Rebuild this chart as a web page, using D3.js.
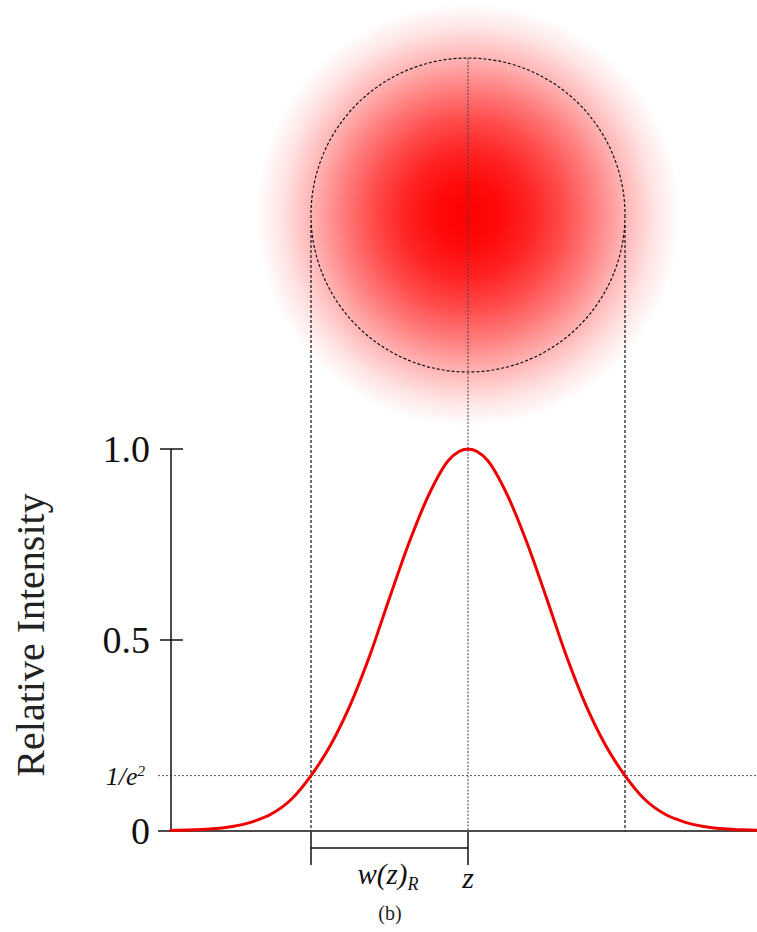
<!DOCTYPE html>
<html>
<head>
<meta charset="utf-8">
<script src="https://cdn.jsdelivr.net/npm/d3@7"></script>
<style>
  body { margin: 0; background: #fff; }
  svg { display: block; font-family: "Liberation Serif", "DejaVu Serif", serif; }
</style>
</head>
<body>
<div id="chart"></div>
<script>
// beam profile, position in units of w(z), intensity
const positions = [-1.9, -1.75, -1.625, -1.5, -1.375, -1.25, -1.125, -1.0, -0.875, -0.75, -0.625, -0.5, -0.375, -0.25, -0.125, 0,
                   0.125, 0.25, 0.375, 0.5, 0.625, 0.75, 0.875, 1.0, 1.125, 1.25, 1.375, 1.5, 1.625, 1.75, 1.85];
const intensity = [0.001, 0.003, 0.006, 0.012, 0.024, 0.045, 0.083, 0.145, 0.225, 0.33, 0.46, 0.61, 0.755, 0.88, 0.97, 1.0,
                   0.97, 0.88, 0.755, 0.61, 0.46, 0.33, 0.225, 0.145, 0.083, 0.045, 0.024, 0.012, 0.006, 0.003, 0.002];
const tickValues = [0, 0.5, 1.0];
const tickLabels = ["0", "0.5", "1.0"];
const invE2 = 0.145;
const invE2Label = "1/e";

const width = 757, height = 932;
const cx = 468, cy = 215;

const svg = d3.select("#chart").append("svg")
    .attr("width", width)
    .attr("height", height);

const x = d3.scaleLinear().domain([-1, 1]).range([311, 625]);
const y = d3.scaleLinear().domain([0, 1]).range([831, 449]);
const beamR = x(1) - x(0);

// glowing spot
const grad = svg.append("defs").append("radialGradient").attr("id", "spot");
const stops = [[0, 1], [0.15, 0.96], [0.3, 0.86], [0.45, 0.7], [0.6, 0.5], [0.75, 0.28], [0.88, 0.11], [1, 0]];
grad.selectAll("stop").data(stops).enter().append("stop")
    .attr("offset", d => d[0])
    .attr("stop-color", "#ff0000")
    .attr("stop-opacity", d => d[1]);

svg.append("circle")
    .attr("cx", cx).attr("cy", cy).attr("r", 212)
    .attr("fill", "url(#spot)");

svg.append("circle")
    .attr("cx", cx).attr("cy", cy).attr("r", beamR)
    .attr("fill", "none")
    .attr("stroke", "#111")
    .attr("stroke-width", 1.2)
    .attr("stroke-dasharray", "3,2");

// guide lines
svg.append("line")
    .attr("x1", x(0)).attr("x2", x(0))
    .attr("y1", cy - beamR).attr("y2", y(0))
    .attr("stroke", "#444").attr("stroke-width", 1)
    .attr("stroke-dasharray", "2,1.5");

[-1, 1].forEach(v => {
  svg.append("line")
      .attr("x1", x(v)).attr("x2", x(v))
      .attr("y1", cy + 10).attr("y2", y(0))
      .attr("stroke", "#111").attr("stroke-width", 1.2)
      .attr("stroke-dasharray", "3,2");
});

svg.append("line")
    .attr("x1", 158).attr("x2", width)
    .attr("y1", y(invE2)).attr("y2", y(invE2))
    .attr("stroke", "#555").attr("stroke-width", 1)
    .attr("stroke-dasharray", "2,2");

// axes
const axisColor = "#111";
svg.append("line")
    .attr("x1", 171).attr("x2", 171)
    .attr("y1", y(1)).attr("y2", y(0))
    .attr("stroke", axisColor).attr("stroke-width", 1.5);
svg.append("line")
    .attr("x1", 158).attr("x2", width)
    .attr("y1", y(0)).attr("y2", y(0))
    .attr("stroke", axisColor).attr("stroke-width", 1.5);

svg.selectAll(".tick").data(tickValues.filter(d => d > 0)).enter().append("line")
    .attr("x1", 160).attr("x2", 183)
    .attr("y1", d => y(d)).attr("y2", d => y(d))
    .attr("stroke", axisColor).attr("stroke-width", 1.5);

svg.selectAll(".tlab").data(tickValues).enter().append("text")
    .attr("x", 150)
    .attr("y", d => y(d))
    .attr("dy", "0.33em")
    .attr("text-anchor", "end")
    .attr("font-size", 38)
    .attr("fill", "#111")
    .text((d, i) => tickLabels[i]);

const lab = svg.append("text")
    .attr("x", 145).attr("y", y(invE2))
    .attr("dy", "0.35em")
    .attr("text-anchor", "end")
    .attr("font-size", 26)
    .attr("font-style", "italic")
    .attr("fill", "#111")
    .text(invE2Label);
lab.append("tspan").attr("font-size", 15).attr("dy", "-0.6em").text("2");

svg.append("text")
    .attr("transform", "translate(44,635) rotate(-90)")
    .attr("text-anchor", "middle")
    .attr("font-size", 40)
    .attr("fill", "#222")
    .text("Relative Intensity");

// profile curve
const line = d3.line()
    .x((d, i) => x(positions[i]))
    .y(d => y(d))
    .curve(d3.curveMonotoneX);

svg.append("path")
    .datum(intensity)
    .attr("d", line)
    .attr("fill", "none")
    .attr("stroke", "#ee0000")
    .attr("stroke-width", 3);

// width bracket
const by = 848;
svg.append("line")
    .attr("x1", x(-1)).attr("x2", x(0)).attr("y1", by).attr("y2", by)
    .attr("stroke", axisColor).attr("stroke-width", 1.5);
[-1, 0].forEach(v => {
  svg.append("line")
      .attr("x1", x(v)).attr("x2", x(v)).attr("y1", 832).attr("y2", 865)
      .attr("stroke", axisColor).attr("stroke-width", 1.5);
});

const wl = svg.append("text")
    .attr("x", 388).attr("y", 884)
    .attr("text-anchor", "middle")
    .attr("font-size", 29)
    .attr("font-style", "italic")
    .attr("fill", "#111")
    .text("w(z)");
wl.append("tspan").attr("font-size", 18).attr("dy", 6).text("R");

svg.append("text")
    .attr("x", x(0)).attr("y", 888)
    .attr("text-anchor", "middle")
    .attr("font-size", 30)
    .attr("font-style", "italic")
    .attr("fill", "#111")
    .text("z");

svg.append("text")
    .attr("x", 390).attr("y", 920)
    .attr("text-anchor", "middle")
    .attr("font-size", 20)
    .attr("fill", "#222")
    .text("(b)");
</script>
</body>
</html>
